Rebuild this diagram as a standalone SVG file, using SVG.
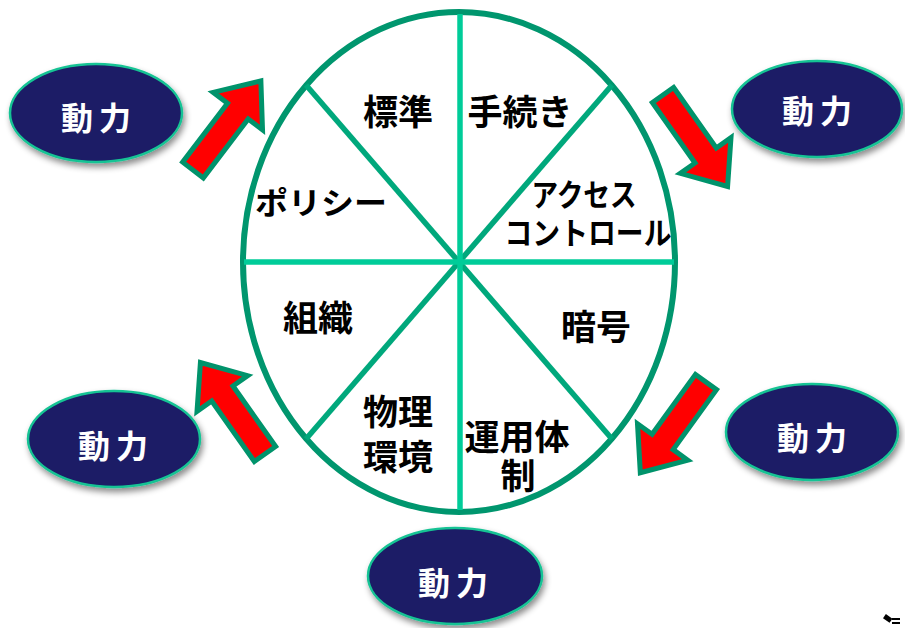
<svg xmlns="http://www.w3.org/2000/svg" width="905" height="628" viewBox="0 0 905 628">
<style>
.seg{font-family:"Liberation Sans","Noto Sans CJK JP",sans-serif;font-weight:bold;font-size:35px;fill:#000;text-anchor:middle}
.kana{font-size:31px}
.node ellipse{fill:#1B1A66;stroke:#17C394;stroke-width:2.5;filter:url(#sh)}
.node text{font-family:"Liberation Sans","Noto Sans CJK JP",sans-serif;font-weight:bold;font-size:32px;fill:#fff;text-anchor:middle;letter-spacing:6px}
.arrow{fill:#FF0000;stroke:#00936B;stroke-width:5;stroke-linejoin:miter}
</style>
<defs>
<filter id="sh" x="-20%" y="-20%" width="140%" height="150%">
<feDropShadow dx="2" dy="4" stdDeviation="3" flood-color="#000" flood-opacity="0.45"/>
</filter>
<polygon id="arr" points="0,-13 74,-13 74,-31 112,0 74,31 74,13 0,13"/>
</defs>
<rect width="905" height="628" fill="#fff"/>

<g id="wheel">
<ellipse cx="459" cy="262" rx="216" ry="250" fill="#fff" stroke="#00966E" stroke-width="6"/>
<g stroke-width="5.5">
<line x1="306" y1="85" x2="612" y2="439" stroke="#00A87C"/>
<line x1="612" y1="85" x2="306" y2="439" stroke="#00A87C"/>
<line x1="460" y1="14" x2="460" y2="510" stroke="#00CC99"/>
<line x1="244" y1="262" x2="674" y2="262" stroke="#00CC99"/>
</g>
</g>

<g id="labels">
<text class="seg" x="398" y="125">標準</text>
<text class="seg" x="520" y="125">手続き</text>
<text class="seg kana" x="584" y="206" textLength="105" lengthAdjust="spacingAndGlyphs">アクセス</text>
<text class="seg kana" x="588" y="244" textLength="167" lengthAdjust="spacingAndGlyphs">コントロール</text>
<text class="seg kana" x="321" y="214" textLength="132" lengthAdjust="spacingAndGlyphs">ポリシー</text>
<text class="seg" x="318" y="331">組織</text>
<text class="seg" x="596" y="340">暗号</text>
<text class="seg" x="398" y="425">物理</text>
<text class="seg" x="398" y="470">環境</text>
<text class="seg" x="517" y="450">運用体</text>
<text class="seg" x="518" y="489">制</text>
</g>

<g id="connectors">
<use href="#arr" class="arrow" transform="translate(193,170) rotate(-52.7)"/>
<use href="#arr" class="arrow" transform="translate(663,95) rotate(54.8)"/>
<use href="#arr" class="arrow" transform="translate(265,454) rotate(-125.2)"/>
<use href="#arr" class="arrow" transform="translate(706,382) rotate(125.9)"/>
</g>

<g id="node-tl" class="node"><ellipse cx="96" cy="113" rx="86" ry="49"/><text x="99" y="130">動力</text></g>
<g id="node-tr" class="node"><ellipse cx="817" cy="109" rx="85" ry="48"/><text x="820" y="123">動力</text></g>
<g id="node-bl" class="node"><ellipse cx="114" cy="439" rx="86" ry="48"/><text x="116" y="458">動力</text></g>
<g id="node-br" class="node"><ellipse cx="812" cy="432" rx="86" ry="48"/><text x="815" y="450">動力</text></g>
<g id="node-b" class="node"><ellipse cx="455" cy="576" rx="87" ry="48"/><text x="456" y="595">動力</text></g>

<g id="icon">
<rect x="884" y="616" width="8" height="5" fill="#000" transform="rotate(35 888 618)"/>
<rect x="892" y="618" width="8" height="2" fill="#000"/>
<rect x="892" y="622" width="8" height="2" fill="#000"/>
</g>
</svg>
